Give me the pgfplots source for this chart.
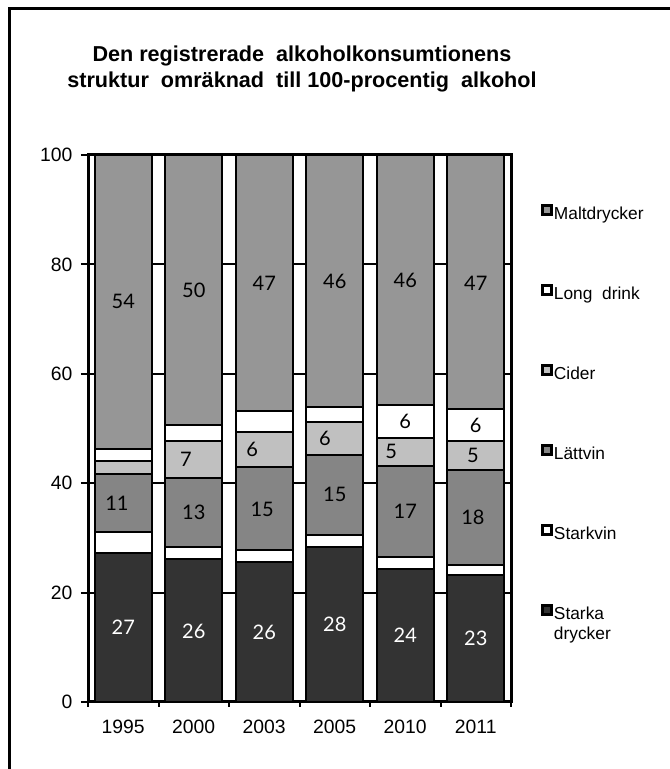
\documentclass[border=0pt]{standalone}
\usepackage{pgfplots}
\pgfplotsset{compat=1.18}
\usepackage{pgfplotstable}
\usepackage{fontspec}
\setmainfont{Liberation Sans}
\newfontfamily\labfont{Lato}

\definecolor{starka}{HTML}{333333}
\definecolor{lattvin}{HTML}{858585}
\definecolor{cider}{HTML}{C0C0C0}
\definecolor{malt}{HTML}{969696}

% shares, percent of 100-procentig alkohol
\pgfplotstableread{
x starka starkvin lattvin cider longdrink malt
0 27.2 3.9 10.6 2.3 2.3 53.7
1 26.1 2.2 12.6 6.8 2.9 49.4
2 25.6 2.1 15.2 6.4 3.9 46.8
3 28.4 2.1 14.7 5.9 2.9 46.0
4 24.3 2.2 16.6 5.2 6.0 45.7
5 23.2 1.8 17.5 5.2 5.8 46.5
}\shares

% printed values, white on the dark segments
\pgfplotstableread{
x y lab
0 13.6 27
1 13.0 26
2 12.8 26
3 14.2 28
4 12.2 24
5 11.6 23
}\whitelabels

\pgfplotstableread{
x y lab
-0.09 36.4 11
0 73.2 54
1 34.6 13
0.89 44.3 7
1 75.3 50
1.97 35.3 15
1.83 46.2 6
2 76.5 47
3 37.9 15
2.86 48.2 6
3 76.8 46
4 34.8 17
3.8 45.9 5
4 51.3 6
4 77.0 46
4.96 33.8 18
4.96 45.1 5
5 50.6 6
5 76.5 47
}\blacklabels

\begin{document}
\begin{tikzpicture}
\useasboundingbox (0,0) rectangle (502.5bp,576.75bp);
\draw[line width=2.25bp] (6.75bp,0) -- (6.75bp,570bp) -- (503bp,570bp);
\node[align=center, font=\fontsize{16.2bp}{19.5bp}\selectfont\bfseries]
  at (226.5bp,525bp) {Den registrerade\ \ alkoholkonsumtionens\\
  struktur\ \ omräknad\ \ till 100-procentig\ \ alkohol};

\begin{axis}[
  at={(66bp,50.25bp)}, anchor=south west,
  scale only axis, width=317.25bp, height=410.25bp,
  ybar stacked, bar width=0.81,
  xmin=-0.5, xmax=5.5, ymin=0, ymax=100,
  xtick={0,...,5},
  xticklabels={1995,2000,2003,2005,2010,2011},
  major x tick style={draw=none},
  minor xtick={-0.5,0.5,1.5,2.5,3.5,4.5,5.5},
  minor tick length=3.75bp,
  major tick length=5.25bp,
  ytick={0,20,...,100},
  ymajorgrids,
  grid style={black, line width=1.5bp},
  tick align=outside, tick pos=left,
  every tick/.style={black, line width=1.5bp},
  axis line style={line width=2.25bp},
  ticklabel style={font=\fontsize{14.5bp}{17bp}\selectfont},
  xticklabel style={yshift=-5bp},
  yticklabel style={xshift=-3bp},
  /pgf/number format/assume math mode=true,
  every axis plot/.append style={draw=black, line width=1.5bp},
  reverse legend,
  legend cell align=left,
  legend style={
    at={(axis description cs:1.071,0.91)}, anchor=north west,
    draw=none, inner sep=0pt, fill=none,
    row sep=45.5bp, column sep=1bp,
    font=\fontsize{13bp}{15bp}\selectfont,
    nodes={inner sep=0pt, text height=9bp, text depth=3bp},
  },
  legend image code/.code={
    \draw[#1, draw=black, line width=2bp] (1bp,1bp) rectangle (7.5bp,7.5bp);
  },
]
\addplot[fill=starka] table[x=x, y=starka] {\shares};
\addlegendentry{\begin{tabular}[t]{@{}l@{}}Starka\\drycker\end{tabular}}
\addplot[fill=white] table[x=x, y=starkvin] {\shares};
\addlegendentry{Starkvin}
\addplot[fill=lattvin] table[x=x, y=lattvin] {\shares};
\addlegendentry{Lättvin}
\addplot[fill=cider] table[x=x, y=cider] {\shares};
\addlegendentry{Cider}
\addplot[fill=white] table[x=x, y=longdrink] {\shares};
\addlegendentry{Long\ \ drink}
\addplot[fill=malt] table[x=x, y=malt] {\shares};
\addlegendentry{Maltdrycker}
\end{axis}

\begin{axis}[
  at={(66bp,50.25bp)}, anchor=south west,
  scale only axis, width=317.25bp, height=410.25bp,
  xmin=-0.5, xmax=5.5, ymin=0, ymax=100,
  hide axis,
  nodes near coords,
  point meta=explicit symbolic,
  nodes near coords align={center},
]
\addplot[draw=none, mark=none,
  every node near coord/.style={white, font=\labfont\fontsize{15bp}{17bp}\selectfont}]
  table[x=x, y=y, meta=lab] {\whitelabels};
\addplot[draw=none, mark=none,
  every node near coord/.style={black, font=\labfont\fontsize{15bp}{17bp}\selectfont}]
  table[x=x, y=y, meta=lab] {\blacklabels};
\end{axis}
\end{tikzpicture}
\end{document}
